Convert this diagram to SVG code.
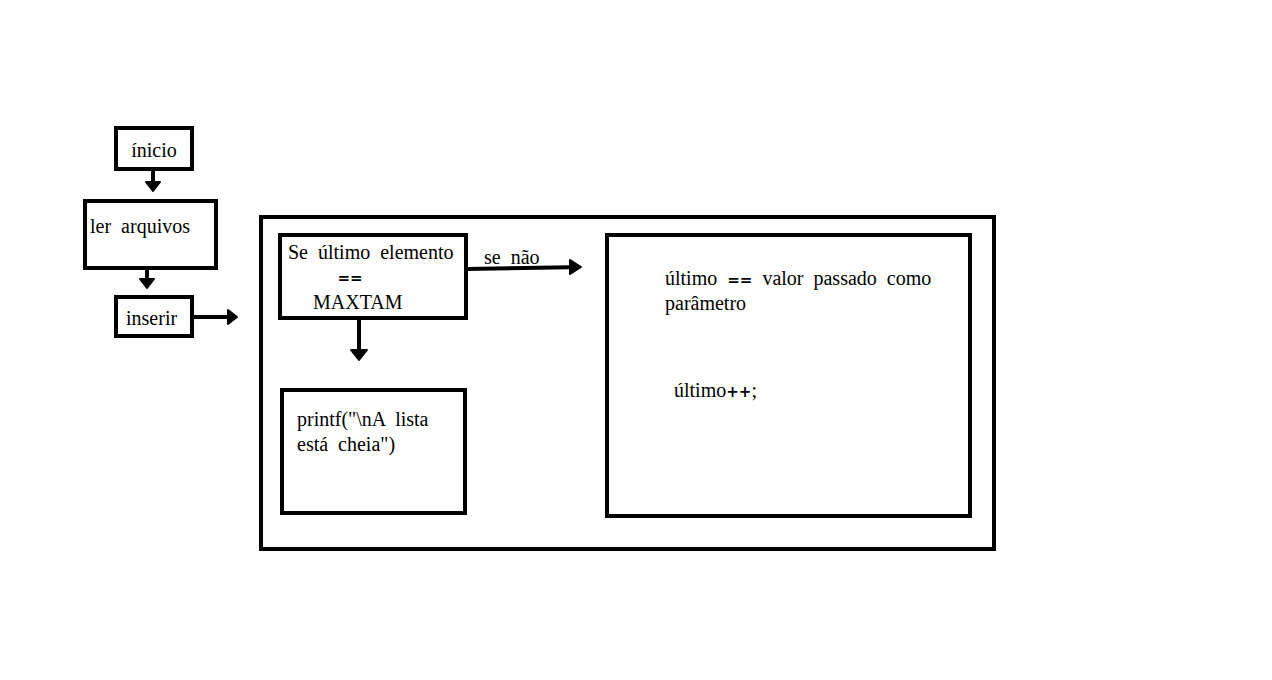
<svg xmlns="http://www.w3.org/2000/svg" width="1272" height="680" viewBox="0 0 1272 680">
<style>
.box{fill:#fff;stroke:#000;stroke-width:4}
.t{font-family:"Liberation Serif",serif;font-size:20px;fill:#000;word-spacing:5px}
.op{font-family:"DejaVu Sans",sans-serif;font-size:15px;font-weight:bold}
.c{stroke:#000;stroke-width:4;fill:none}
.h{fill:#000;stroke:#000;stroke-width:2;stroke-linejoin:round}
</style>
<rect width="1272" height="680" fill="#fff"/>
<g id="inicio"><rect class="box" x="116" y="128" width="76" height="41"/><text class="t" x="154" y="157" text-anchor="middle">ínicio</text></g>
<g id="ler"><rect class="box" x="85" y="201" width="131" height="67"/><text class="t" x="90" y="233">ler arquivos</text></g>
<g id="inserir"><rect class="box" x="116" y="297" width="76" height="39"/><text class="t" x="126" y="325">inserir</text></g>
<g id="container"><rect class="box" x="261" y="217" width="733" height="332" stroke-width="5"/></g>
<g id="cond"><rect class="box" x="280" y="235" width="186" height="83"/>
<text class="t" x="288" y="259">Se último elemento</text>
<text class="t op" x="350" y="283" text-anchor="middle">==</text>
<text class="t" x="313" y="309">MAXTAM</text></g>
<g id="printf"><rect class="box" x="282" y="390" width="183" height="123"/>
<text class="t" x="297" y="426">printf("\nA lista</text>
<text class="t" x="297" y="451">está cheia")</text></g>
<g id="senao"><rect class="box" x="607" y="235" width="363" height="281"/>
<text class="t" x="665" y="285">último <tspan class="op">==</tspan> valor passado como</text>
<text class="t" x="665" y="310">parâmetro</text>
<text class="t" x="674" y="397">último<tspan class="op">++</tspan>;</text></g>
<g id="connectors">
<line class="c" x1="153" y1="169" x2="153" y2="183"/><polygon class="h" points="146,182 160,182 153,191"/>
<line class="c" x1="147" y1="268" x2="147" y2="280"/><polygon class="h" points="140,279 154,279 147,288"/>
<line class="c" x1="192" y1="317" x2="228" y2="317"/><polygon class="h" points="228,310 228,324 237,317"/>
<line class="c" x1="359" y1="318" x2="359" y2="350"/><polygon class="h" points="351,350 367,350 359,360"/>
<line class="c" x1="466" y1="269" x2="570" y2="267.2"/><polygon class="h" points="570,260 570,274 581,267"/>
<text class="t" x="484" y="264">se não</text>
</g>
</svg>
